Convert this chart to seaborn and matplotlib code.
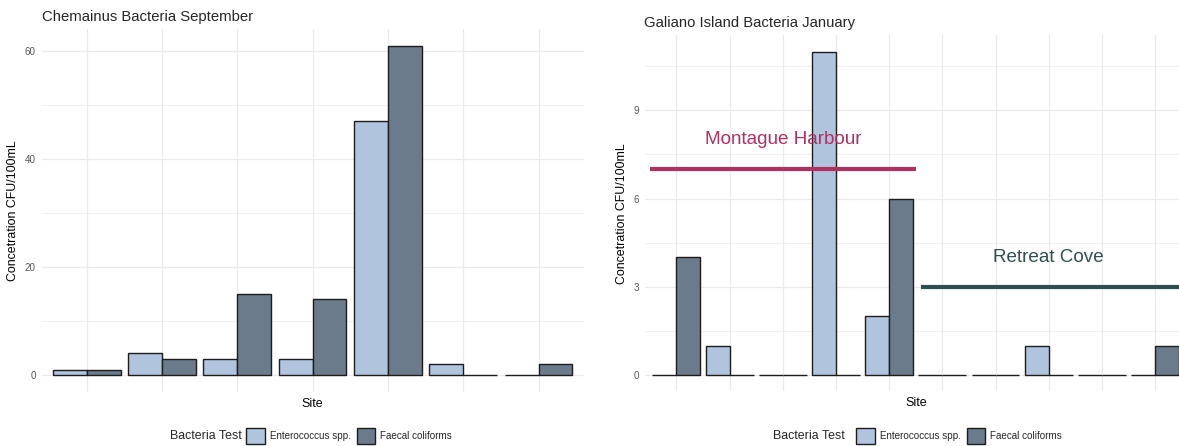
import matplotlib
matplotlib.use("Agg")
import matplotlib.pyplot as plt
from matplotlib.ticker import MultipleLocator
from matplotlib.patches import Patch
import pandas as pd
import seaborn as sns

# --- data -------------------------------------------------------------
tests = ["Enterococcus spp.", "Faecal coliforms"]

chemainus_sites = ["C1", "C2", "C3", "C4", "C5", "C6", "C7"]
chemainus_entero = [1, 4, 3, 3, 47, 2, 0]
chemainus_faecal = [1, 3, 15, 14, 61, 0, 2]

galiano_sites = ["G1", "G2", "G3", "G4", "G5", "G6", "G7", "G8", "G9", "G10"]
galiano_entero = [0, 1, 0, 11, 2, 0, 0, 1, 0, 0]
galiano_faecal = [4, 0, 0, 0, 6, 0, 0, 0, 0, 1]

# harbour groupings on the Galiano chart (site index ranges, label position)
zone_names = ["Montague Harbour", "Retreat Cove"]
zone_levels = [7, 3]
zone_starts = [-0.5, 4.6]
zone_ends = [4.5, 9.5]
zone_label_x = [2, 7]
zone_label_y = [8, 4]
zone_colors = ["#B03060", "#2F4F4F"]

# --- style ------------------------------------------------------------
sns.set_theme(style="white")
plt.rcParams["font.family"] = ["Liberation Sans", "DejaVu Sans"]

light = "#B0C4DE"
dark = "#6C7B8B"
edge = "#1c1c1c"
grid = "#EBEBEB"

W, H = 1179, 446
fig = plt.figure(figsize=(W / 100, H / 100), dpi=100)


def px_axes(left, top, right, bottom):
    return fig.add_axes([left / W, 1 - bottom / H, (right - left) / W, (bottom - top) / H])


def long_frame(sites, entero, faecal):
    return pd.DataFrame({
        "site": sites * 2,
        "test": [tests[0]] * len(sites) + [tests[1]] * len(sites),
        "value": list(entero) + list(faecal),
    })


def draw_panel(ax, df, sites, ylim, major, minor, xlim):
    sns.barplot(data=df, x="site", y="value", hue="test", order=sites,
                hue_order=tests, palette=[light, dark], saturation=1,
                width=0.9, gap=0, edgecolor=edge, linewidth=1.0,
                errorbar=None, legend=False, ax=ax, zorder=2)
    ax.set_xlim(*xlim)
    ax.set_ylim(*ylim)
    ax.yaxis.set_major_locator(MultipleLocator(major))
    ax.yaxis.set_minor_locator(MultipleLocator(minor))
    ax.set_axisbelow(True)
    ax.grid(which="major", axis="both", color=grid, linewidth=0.9)
    ax.grid(which="minor", axis="y", color=grid, linewidth=0.5)
    for s in ax.spines.values():
        s.set_visible(False)
    ax.tick_params(axis="both", which="both", length=0)
    ax.tick_params(axis="y", labelsize=7.1, labelcolor="#555555", pad=4)
    ax.set_xticklabels([])
    ax.set_xlabel("Site", fontsize=8.9, color="black", labelpad=1)
    ax.set_ylabel("Concetration CFU/100mL", fontsize=8.9, color="black")


def draw_legend(title_x, key_x, y):
    fig.text(title_x / W, 1 - y / H, "Bacteria Test", fontsize=8.9,
             ha="left", va="center")
    handles = [Patch(facecolor=light, edgecolor=edge, linewidth=1.0),
               Patch(facecolor=dark, edgecolor=edge, linewidth=1.0)]
    fig.legend(handles, tests, loc="center left",
               bbox_to_anchor=(key_x / W, 1 - y / H), ncol=2, frameon=False,
               fontsize=7.1, handlelength=1.9, handleheight=2.0,
               handletextpad=0.5, columnspacing=0.6, borderpad=0,
               borderaxespad=0)


# --- Chemainus --------------------------------------------------------
ax1 = px_axes(41.5, 29.1, 583.7, 391.5)
draw_panel(ax1, long_frame(chemainus_sites, chemainus_entero, chemainus_faecal),
           chemainus_sites, (-3.05, 64.05), 20, 10, (-0.6, 6.6))
ax1.yaxis.set_label_coords(-0.0415, 0.5)
fig.text(41.5 / W, 1 - 17.3 / H, "Chemainus Bacteria September",
         fontsize=10.7, ha="left", va="center")
draw_legend(170, 246, 436)

# --- Galiano Island ---------------------------------------------------
ax2 = px_axes(644.5, 35.4, 1187, 391.2)
draw_panel(ax2, long_frame(galiano_sites, galiano_entero, galiano_faecal),
           galiano_sites, (-0.55, 11.55), 3, 1.5, (-0.6, 9.6))
ax2.yaxis.set_label_coords(-0.0304, 0.5)
fig.text(644.5 / W, 1 - 23.0 / H, "Galiano Island Bacteria January",
         fontsize=10.7, ha="left", va="center")

for name, lvl, x0, x1, lx, ly, c in zip(zone_names, zone_levels, zone_starts,
                                        zone_ends, zone_label_x, zone_label_y,
                                        zone_colors):
    ax2.hlines(lvl, x0, x1, colors=c, linewidth=3.0, zorder=5)
    ax2.text(lx, ly, name, color=c, fontsize=13.6, ha="center", va="center",
             zorder=6)

draw_legend(773, 856, 436)

fig.savefig("out.png", dpi=100)
